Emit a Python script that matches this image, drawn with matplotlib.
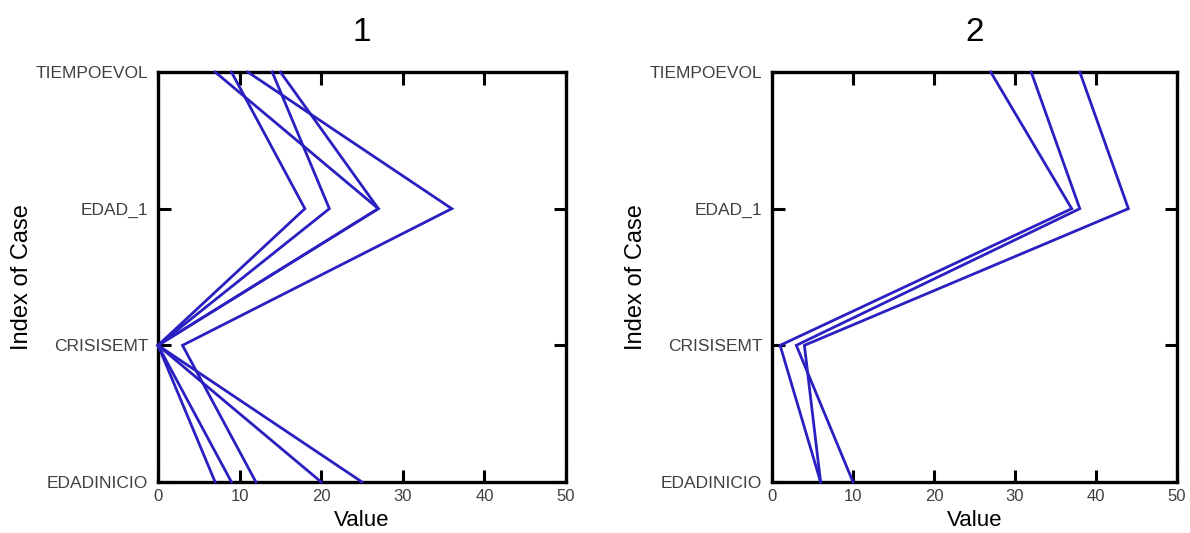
import matplotlib
matplotlib.use("Agg")
import matplotlib.pyplot as plt

# Profile variables, listed from the bottom of the y axis to the top
variables = ["EDADINICIO", "CRISISEMT", "EDAD_1", "TIEMPOEVOL"]

# Cluster 1 cases: values for EDADINICIO, CRISISEMT, EDAD_1, TIEMPOEVOL
cluster1_case1 = [20, 0, 27, 7]
cluster1_case2 = [7, 0, 18, 9]
cluster1_case3 = [12, 3, 36, 11]
cluster1_case4 = [9, 0, 21, 14]
cluster1_case5 = [25, 0, 27, 15]

# Cluster 2 cases
cluster2_case1 = [6, 1, 37, 27]
cluster2_case2 = [10, 3, 38, 32]
cluster2_case3 = [6, 4, 44, 38]

clusters = {
    "1": [cluster1_case1, cluster1_case2, cluster1_case3, cluster1_case4, cluster1_case5],
    "2": [cluster2_case1, cluster2_case2, cluster2_case3],
}

x_ticks = [0, 10, 20, 30, 40, 50]

plt.rcParams["font.family"] = ["Liberation Sans", "DejaVu Sans"]

fig = plt.figure(figsize=(11.9, 5.33), dpi=100)
fig.patch.set_facecolor("white")

positions = [
    [158 / 1190, 51 / 533, 408 / 1190, 410 / 533],
    [772 / 1190, 51 / 533, 405 / 1190, 410 / 533],
]

line_color = "#2a1fc0"
tick_color = "#404040"
y_pos = list(range(len(variables)))

for pos, (title, cases) in zip(positions, clusters.items()):
    ax = fig.add_axes(pos)
    for case in cases:
        ax.plot(case, y_pos, color=line_color, lw=2.0, clip_on=False,
                solid_joinstyle="miter", zorder=3)
    ax.set_xlim(0, 50)
    ax.set_ylim(0, 3)
    ax.set_xticks(x_ticks)
    ax.set_xticklabels([str(t) for t in x_ticks])
    ax.set_yticks(y_pos)
    ax.set_yticklabels(variables)
    ax.tick_params(direction="in", length=9, width=2.2, top=True, right=True,
                   labelcolor=tick_color, color="black")
    ax.tick_params(axis="x", pad=5, labelsize=12)
    ax.tick_params(axis="y", pad=7, labelsize=12.5)
    for sp in ax.spines.values():
        sp.set_linewidth(2.4)
        sp.set_color("black")
    ax.set_title(title, fontsize=24, pad=22)
    ax.set_ylabel("Index of Case", fontsize=17, labelpad=2)
    ax.set_xlabel("Value", fontsize=16, labelpad=4)

fig.savefig("out.png", dpi=100, facecolor="white")
